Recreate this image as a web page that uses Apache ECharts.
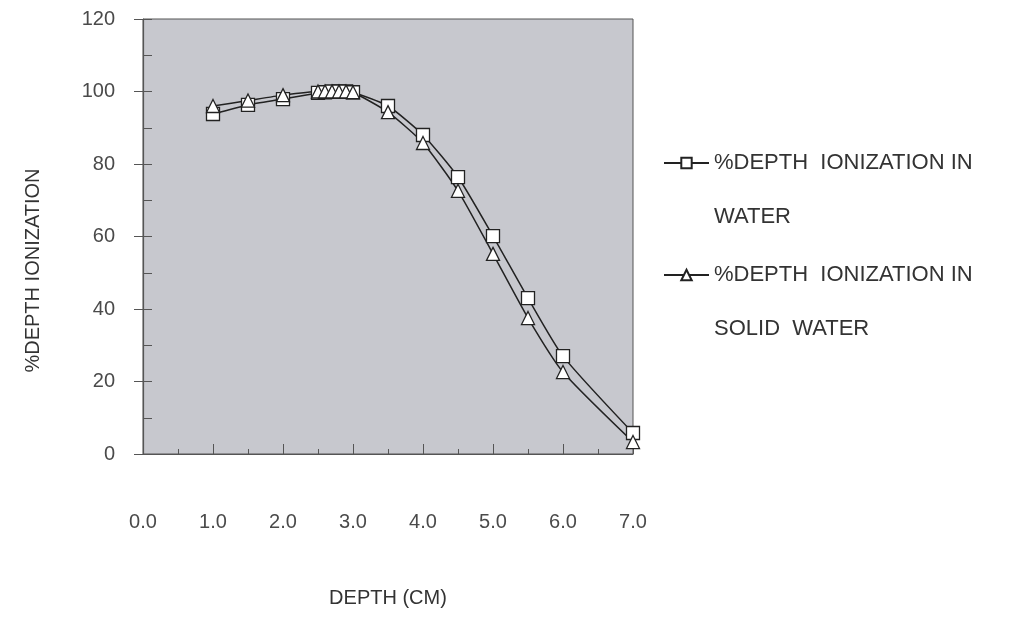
<!DOCTYPE html>
<html>
<head>
<meta charset="utf-8">
<script src="https://cdn.jsdelivr.net/npm/echarts@6/dist/echarts.min.js"></script>
<style>
  html, body { margin: 0; padding: 0; background: #fff; }
  #chart { width: 1018px; height: 638px; }
</style>
</head>
<body>
<div id="chart"></div>
<script>
// depth in cm
var depthWater = [1.0, 1.5, 2.0, 2.5, 2.6, 2.7, 2.8, 2.9, 3.0, 3.5, 4.0, 4.5, 5.0, 5.5, 6.0, 7.0];
var ionWater   = [93.8, 96.3, 97.9, 99.6, 99.8, 100, 100, 100, 99.8, 96.0, 88.0, 76.4, 60.1, 43.0, 27.0, 5.8];
var depthSolid = [1.0, 1.5, 2.0, 2.5, 2.6, 2.7, 2.8, 2.9, 3.0, 3.5, 4.0, 4.5, 5.0, 5.5, 6.0, 7.0];
var ionSolid   = [96.0, 97.5, 99.0, 100, 100, 100, 100, 100, 99.8, 94.3, 85.8, 72.6, 55.2, 37.5, 22.6, 3.3];
var seriesNames = ['%DEPTH  IONIZATION IN\nWATER', '%DEPTH  IONIZATION IN\nSOLID  WATER'];

function pairs(xs, ys) {
    var out = [];
    for (var i = 0; i < xs.length; i++) {
        out.push([xs[i], ys[i]]);
    }
    return out;
}

var chart = echarts.init(document.getElementById('chart'));
var font = 'Liberation Sans, Arial, sans-serif';
var axisColor = '#4a4a4a';

// rich text: empty first line so the icon lines up with the first text line
function legendFmt(name) {
    var parts = name.split('\n');
    return '{e| }\n{a|' + parts[0] + '}\n{a|' + parts[1] + '}';
}
var legendRich = {
    e: { lineHeight: 54, fontSize: 22, fontFamily: font, color: '#333' },
    a: { lineHeight: 54, fontSize: 22, fontFamily: font, color: '#333' }
};

var option = {
    backgroundColor: '#fff',
    animation: false,
    grid: {
        left: 143, top: 19, right: 385, bottom: 184,
        show: true,
        backgroundColor: '#c7c8ce',
        borderColor: '#555',
        borderWidth: 1
    },
    legend: [{
        data: [seriesNames[0]],
        left: 658, top: 93,
        itemWidth: 45, itemHeight: 13,
        formatter: legendFmt,
        textStyle: { rich: legendRich }
    }, {
        data: [seriesNames[1]],
        left: 658, top: 205,
        itemWidth: 45, itemHeight: 13,
        formatter: legendFmt,
        textStyle: { rich: legendRich }
    }],
    xAxis: [{
        type: 'value',
        min: 0, max: 7, interval: 1,
        name: 'DEPTH (CM)',
        nameLocation: 'middle',
        nameGap: 134,
        nameTextStyle: { fontSize: 20, fontFamily: font, color: '#333', verticalAlign: 'top' },
        axisLine: { lineStyle: { color: '#555', width: 1.2 } },
        axisTick: { inside: true, length: 10, lineStyle: { color: '#555' } },
        minorTick: { show: true, splitNumber: 2, length: 5, lineStyle: { color: '#555' } },
        axisLabel: {
            margin: 58, fontSize: 20, fontFamily: font, color: axisColor,
            formatter: function (v) { return v.toFixed(1); }
        },
        splitLine: { show: false }
    }],
    yAxis: [{
        type: 'value',
        min: 0, max: 120, interval: 20,
        name: '%DEPTH IONIZATION',
        nameLocation: 'middle',
        nameGap: 100,
        nameTextStyle: { fontSize: 20, fontFamily: font, color: '#333', padding: [0, 68, 0, 0] },
        axisLine: { show: true, lineStyle: { color: '#555', width: 1.2 } },
        axisTick: { show: true, inside: false, length: 9, lineStyle: { color: '#555' } },
        axisLabel: { margin: 28, fontSize: 20, fontFamily: font, color: axisColor },
        splitLine: { show: false }
    }, {
        // inner ticks every 10
        type: 'value',
        position: 'left',
        min: 0, max: 120, interval: 10,
        axisLine: { show: false },
        axisTick: { show: true, inside: true, length: 9, lineStyle: { color: '#555' } },
        axisLabel: { show: false },
        splitLine: { show: false }
    }],
    series: [{
        name: seriesNames[0],
        type: 'line',
        data: pairs(depthWater, ionWater),
        smooth: 0.2,
        symbol: 'rect',
        symbolSize: 13,
        itemStyle: { color: '#fff', borderColor: '#222', borderWidth: 1.3 },
        lineStyle: { color: '#222', width: 1.5 }
    }, {
        name: seriesNames[1],
        type: 'line',
        data: pairs(depthSolid, ionSolid),
        smooth: 0.2,
        symbol: 'triangle',
        symbolSize: 13,
        itemStyle: { color: '#fff', borderColor: '#222', borderWidth: 1.3 },
        lineStyle: { color: '#222', width: 1.5 }
    }]
};
chart.setOption(option);
</script>
</body>
</html>
